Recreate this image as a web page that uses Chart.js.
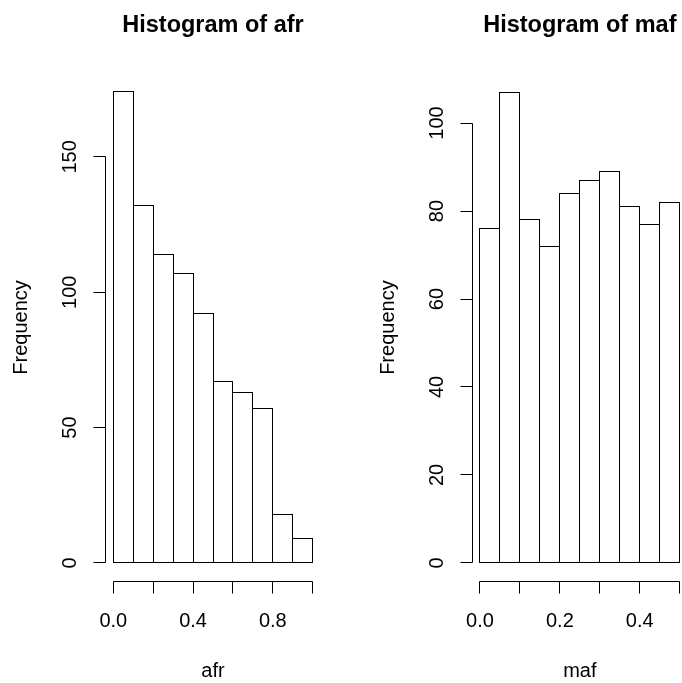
<!DOCTYPE html>
<html>
<head>
<meta charset="utf-8">
<title>Histograms of afr and maf</title>
<script src="https://cdn.jsdelivr.net/npm/chart.js@4.4.1/dist/chart.umd.min.js"></script>
<style>
  html, body { margin: 0; padding: 0; background: #fff; overflow: hidden; width: 682px; height: 683px; }
  canvas { position: absolute; top: 0; }
  #afrChart { left: 0; }
  #mafChart { left: 341px; }
</style>
</head>
<body>
<canvas id="afrChart" width="341" height="683"></canvas>
<canvas id="mafChart" width="360" height="683"></canvas>
<script>
// Bin edges and counts for each histogram
const afrBreaks = [0, 0.1, 0.2, 0.3, 0.4, 0.5, 0.6, 0.7, 0.8, 0.9, 1.0];
const afrCounts = [174, 132, 114, 107, 92, 67, 63, 57, 18, 9];
const mafBreaks = [0, 0.05, 0.1, 0.15, 0.2, 0.25, 0.3, 0.35, 0.4, 0.45, 0.5];
const mafCounts = [76, 107, 78, 72, 84, 87, 89, 81, 77, 82];

// Axis ticks and the labels printed beside them
const afrXTicks = [0, 0.2, 0.4, 0.6, 0.8, 1.0];
const afrXLabels = ['0.0', '', '0.4', '', '0.8', ''];
const afrYTicks = [0, 50, 100, 150];
const afrYLabels = ['0', '50', '100', '150'];
const mafXTicks = [0, 0.1, 0.2, 0.3, 0.4, 0.5];
const mafXLabels = ['0.0', '', '0.2', '', '0.4', ''];
const mafYTicks = [0, 20, 40, 60, 80, 100];
const mafYLabels = ['0', '20', '40', '60', '80', '100'];

const FONT = '"Liberation Sans", Arial, Helvetica, sans-serif';

function binData(breaks, counts) {
  return counts.map((c, i) => ({ x: (breaks[i] + breaks[i + 1]) / 2, y: c }));
}

const crisp = v => Math.floor(v) + 0.5;

// Draws bar outlines, base-graphics style axes and the titles
const histDecor = {
  id: 'histDecor',
  afterDatasetsDraw(chart, args, opts) {
    const ctx = chart.ctx;
    const xs = chart.scales.x, ys = chart.scales.y;
    const area = chart.chartArea;
    ctx.save();
    ctx.strokeStyle = '#000';
    ctx.lineWidth = 1;

    // bar outlines: neighbouring bars share the edge at each break
    const edges = opts.breaks.map(v => crisp(xs.getPixelForValue(v)));
    chart.getDatasetMeta(0).data.forEach((bar, i) => {
      const p = bar.getProps(['y', 'base'], true);
      const t = crisp(p.y), b = crisp(p.base);
      ctx.strokeRect(edges[i], t, edges[i + 1] - edges[i], b - t);
    });

    // y axis
    const ax = crisp(area.left);
    const yT = opts.yTicks.map(v => ys.getPixelForValue(v));
    ctx.beginPath();
    ctx.moveTo(ax, crisp(yT[0]));
    ctx.lineTo(ax, crisp(yT[yT.length - 1]));
    yT.forEach(py => {
      ctx.moveTo(ax, crisp(py));
      ctx.lineTo(ax - 12, crisp(py));
    });
    ctx.stroke();

    // x axis
    const ay = crisp(area.bottom);
    const xT = opts.xTicks.map(v => xs.getPixelForValue(v));
    ctx.beginPath();
    ctx.moveTo(crisp(xT[0]), ay);
    ctx.lineTo(crisp(xT[xT.length - 1]), ay);
    xT.forEach(px => {
      ctx.moveTo(crisp(px), ay);
      ctx.lineTo(crisp(px), ay + 12);
    });
    ctx.stroke();

    ctx.fillStyle = '#000';
    ctx.font = '20px ' + FONT;
    ctx.textAlign = 'center';
    ctx.textBaseline = 'alphabetic';

    // x tick labels and axis title
    xT.forEach((px, i) => {
      if (opts.xLabels[i]) ctx.fillText(opts.xLabels[i], px, area.bottom + 45);
    });
    ctx.fillText(opts.xTitle, (area.left + area.right) / 2, area.bottom + 95);

    // rotated y tick labels and axis title
    yT.forEach((py, i) => {
      ctx.save();
      ctx.translate(area.left - 29, py);
      ctx.rotate(-Math.PI / 2);
      ctx.fillText(opts.yLabels[i], 0, 0);
      ctx.restore();
    });
    ctx.save();
    ctx.translate(area.left - 78.5, (area.top + area.bottom) / 2);
    ctx.rotate(-Math.PI / 2);
    ctx.fillText(opts.yTitle, 0, 0);
    ctx.restore();

    // main title
    ctx.font = 'bold 23.5px ' + FONT;
    ctx.fillText(opts.title, (area.left + area.right) / 2, 32);
    ctx.restore();
  }
};

function makeHist(id, breaks, counts, cfg) {
  return new Chart(document.getElementById(id), {
    type: 'bar',
    data: {
      datasets: [{
        data: binData(breaks, counts),
        backgroundColor: '#fff',
        borderWidth: 0,
        barPercentage: 1,
        categoryPercentage: 1
      }]
    },
    options: {
      responsive: false,
      animation: false,
      devicePixelRatio: 1,
      layout: { padding: cfg.padding },
      plugins: {
        legend: { display: false },
        tooltip: { enabled: false },
        histDecor: Object.assign({ breaks: breaks }, cfg.decor)
      },
      scales: {
        x: { type: 'linear', display: false, offset: false, min: cfg.xMin, max: cfg.xMax },
        y: { type: 'linear', display: false, min: cfg.yMin, max: cfg.yMax }
      }
    },
    plugins: [histDecor]
  });
}

makeHist('afrChart', afrBreaks, afrCounts, {
  padding: { left: 105.3, right: 20.3, top: 73.1, bottom: 101.2 },
  xMin: -0.04, xMax: 1.04, yMin: -6.96, yMax: 180.96,
  decor: {
    xTicks: afrXTicks, xLabels: afrXLabels,
    yTicks: afrYTicks, yLabels: afrYLabels,
    xTitle: 'afr', yTitle: 'Frequency', title: 'Histogram of afr'
  }
});

makeHist('mafChart', mafBreaks, mafCounts, {
  padding: { left: 131, right: 13.3, top: 73.4, bottom: 101.2 },
  xMin: -0.02, xMax: 0.52, yMin: -4.28, yMax: 111.28,
  decor: {
    xTicks: mafXTicks, xLabels: mafXLabels,
    yTicks: mafYTicks, yLabels: mafYLabels,
    xTitle: 'maf', yTitle: 'Frequency', title: 'Histogram of maf'
  }
});
</script>
</body>
</html>
